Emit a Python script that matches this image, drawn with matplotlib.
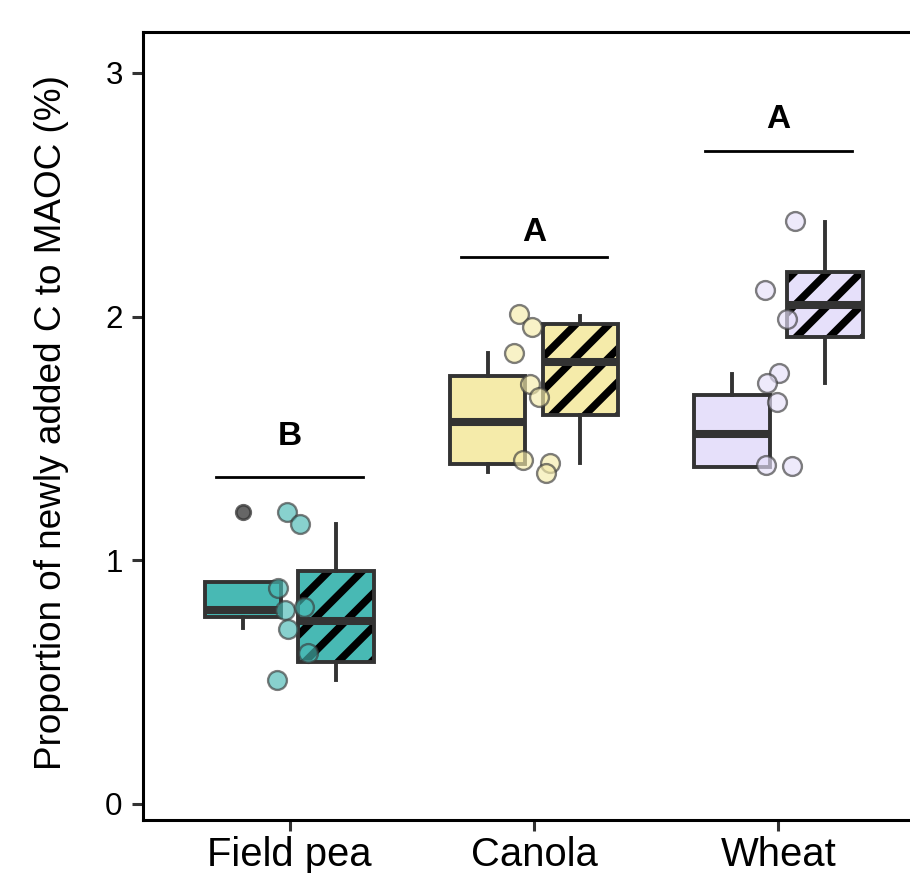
"""Proportion of newly added C to MAOC by crop, plain vs hatched treatment."""

import matplotlib
matplotlib.use("Agg")
import matplotlib.pyplot as plt
from matplotlib.patches import PathPatch

plt.rcParams["font.family"] = ["Liberation Sans", "DejaVu Sans"]
plt.rcParams["hatch.linewidth"] = 2.7

crops = ["Field pea", "Canola", "Wheat"]
fill_colors = ["#48B9B4", "#F5EBAA", "#E6E0FA"]

# box stats, untreated (plain boxes)
plain_q1 = [0.769, 1.395, 1.384]
plain_med = [0.796, 1.566, 1.518]
plain_q3 = [0.912, 1.756, 1.678]
plain_lo = [0.721, 1.364, 1.384]
plain_hi = [0.912, 1.850, 1.765]
plain_fliers = [[1.198], [], []]

# box stats, treated (hatched boxes)
hatch_q1 = [0.584, 1.597, 1.918]
hatch_med = [0.752, 1.814, 2.049]
hatch_q3 = [0.957, 1.968, 2.184]
hatch_lo = [0.509, 1.398, 1.729]
hatch_hi = [1.147, 2.003, 2.390]

# jittered raw observations (jitter offset from crop centre, value)
points_dx = [
    [-0.012, 0.041, -0.049, -0.020, 0.057, -0.008, 0.074, -0.053],
    [-0.061, -0.008, -0.082, -0.016, 0.020, -0.045, 0.065, 0.049],
    [0.070, -0.053, 0.037, 0.004, -0.045, -0.004, -0.049, 0.057],
]
points_y = [
    [1.198, 1.149, 0.885, 0.796, 0.808, 0.718, 0.620, 0.509],
    [2.011, 1.957, 1.851, 1.723, 1.670, 1.412, 1.399, 1.358],
    [2.392, 2.109, 1.990, 1.769, 1.727, 1.650, 1.391, 1.387],
]

# significance letters
sig_letters = ["B", "A", "A"]
sig_line_y = [1.343, 2.243, 2.680]
sig_text_y = [1.475, 2.312, 2.775]

EDGE = "#333333"
fig = plt.figure(figsize=(4.55, 4.365), dpi=200)
ax = fig.add_axes([143 / 910, 53 / 873, (925 - 143) / 910, (820 - 32) / 873])

offset = 0.19
width = 0.31
for i, crop in enumerate(crops):
    x = i + 1
    stats = [
        dict(med=plain_med[i], q1=plain_q1[i], q3=plain_q3[i],
             whislo=plain_lo[i], whishi=plain_hi[i], fliers=plain_fliers[i]),
        dict(med=hatch_med[i], q1=hatch_q1[i], q3=hatch_q3[i],
             whislo=hatch_lo[i], whishi=hatch_hi[i], fliers=[]),
    ]
    bp = ax.bxp(
        stats, positions=[x - offset, x + offset], widths=width,
        patch_artist=True, showcaps=False, manage_ticks=False,
        boxprops=dict(edgecolor=EDGE, linewidth=1.4),
        whiskerprops=dict(color=EDGE, linewidth=1.4),
        medianprops=dict(color=EDGE, linewidth=2.9, solid_capstyle="butt"),
        flierprops=dict(marker="o", markerfacecolor="#333333", markeredgecolor="#333333",
                        alpha=0.75, markersize=5.2),
    )
    for k, box in enumerate(bp["boxes"]):
        box.set_facecolor(fill_colors[i])
        if k == 1:
            # black hatch, then redraw the dark grey outline on top
            box.set_edgecolor("black")
            box.set_linewidth(0)
            box.set_hatch("//")
            ax.add_patch(PathPatch(box.get_path(), facecolor="none", edgecolor=EDGE,
                                   linewidth=1.4, zorder=box.get_zorder() + 0.05))
    ax.scatter([x + d for d in points_dx[i]], points_y[i], s=46,
               facecolor=fill_colors[i], edgecolor="#3a3a3a", linewidth=0.85,
               alpha=0.65, zorder=4)
    ax.plot([x - 0.3, x + 0.3], [sig_line_y[i], sig_line_y[i]], color="black", lw=1.0)
    ax.text(x, sig_text_y[i], sig_letters[i], ha="center", va="baseline",
            fontsize=12, fontweight="bold")

ax.set_xlim(0.4, 3.6)
ax.set_ylim(-0.066, 3.168)
ax.set_xticks([1, 2, 3])
ax.set_xticklabels(crops, fontsize=14.4)
ax.set_yticks([0, 1, 2, 3])
ax.set_yticklabels(["0", "1", "2", "3"], fontsize=11.3)
ax.tick_params(axis="both", length=3.9, width=1.1, color=EDGE)
ax.tick_params(axis="y", pad=3.4)
ax.tick_params(axis="x", pad=2.0)
for sp in ax.spines.values():
    sp.set_linewidth(1.1)
    sp.set_color("black")

fig.text(52 / 910, 1 - 423 / 873, "Proportion of newly added C to MAOC (%)",
         rotation=90, ha="center", va="center", fontsize=13.3)

fig.savefig("out.png", dpi=200)
